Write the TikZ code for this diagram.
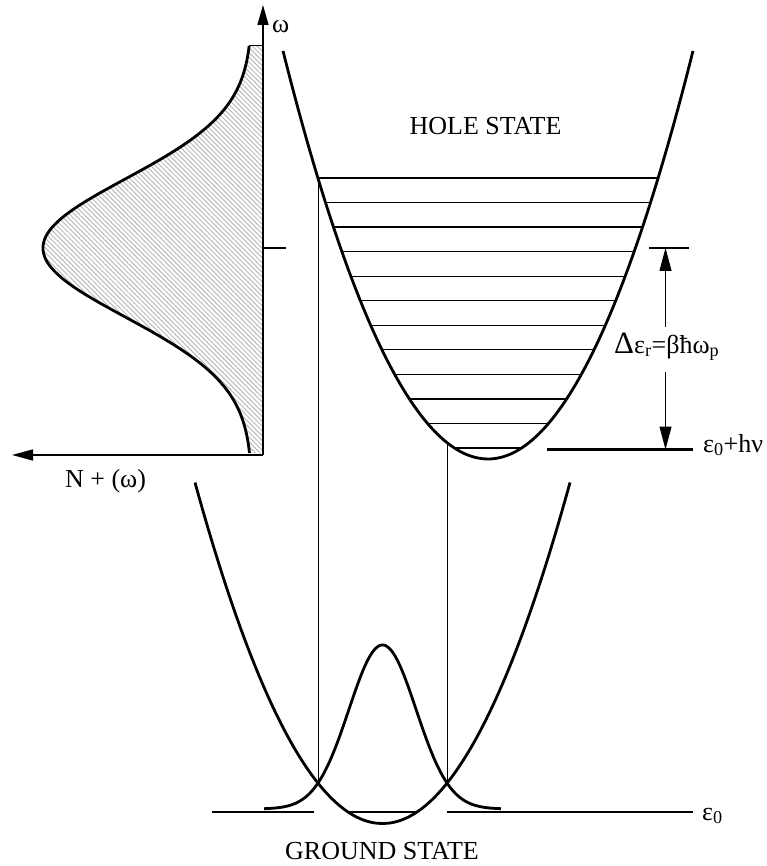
\documentclass[tikz,border=0pt]{standalone}
\usepackage{fontspec}
\setmainfont{Liberation Serif}
\usetikzlibrary{arrows.meta,patterns.meta}
\begin{document}
\begin{tikzpicture}[x=1pt,y=-1pt,
  curve/.style={line width=2.8pt, line join=round},
  levelline/.style={line width=1.3pt},
  thickline/.style={line width=2.5pt},
  guide/.style={line width=1pt},
  axisline/.style={line width=1.4pt},
  tipv/.style={-{Triangle[length=20pt,width=11pt]}},
  tipd/.style={-{Triangle[length=23pt,width=12pt]}},
  lbl/.style={font=\fontsize{26}{30}\selectfont, inner sep=0pt},
]
\useasboundingbox (0,0) rectangle (766,866);

% ---------- distribution N+(omega) ----------
\fill[pattern={Lines[angle=-45,distance=3.4pt,line width=1pt]}, pattern color=gray!55]
  plot[domain=46:453, samples=140] ({252-209*exp(-0.5*((\x-248)/69)^2)}, \x)
  -- (263,453) -- (263,46) -- cycle;
\draw[curve] plot[domain=46:453, samples=140] ({252-209*exp(-0.5*((\x-248)/69)^2)}, \x);
\draw[guide] (249,46) -- (263,46);

\coordinate (O) at (263,455);
\coordinate (wtop) at (263,5);
\coordinate (Nend) at (12,455);
\draw[axisline,tipv] (O) -- (wtop);
\draw[axisline,-{Triangle[length=21pt,width=11pt]}] (O) -- (Nend);
\draw[line width=2pt] (263,248) -- (286,248);
\node[lbl, anchor=base west] (omega) at (272,33) {ω};
\node[lbl, anchor=base] (Nlab) at (105.5,487) {N + (ω)};

% ---------- hole state ----------
\draw[curve] (283,50.9) .. controls (419.67,595) and (556.33,595) .. (693,50.9);
\foreach \k in {0,...,11} {
  \pgfmathsetmacro\yy{178+\k*270/11}
  \pgfmathsetmacro\hw{10.148*sqrt(459-\yy)}
  \draw[levelline] (488-\hw,\yy) -- (488+\hw,\yy);
}
\node[lbl, anchor=base] (hole) at (485.5,135) {HOLE STATE};

% ---------- ground state ----------
\draw[curve] (195,482.5) .. controls (320,937.2) and (445,937.2) .. (570,482.5);
\draw[curve] plot[domain=264:501, samples=140] (\x, {809-164*exp(-0.5*((\x-382.5)/33.6)^2)});
\draw[thickline] (212,812) -- (314,812);
\draw[line width=2pt] (349,812) -- (416,812);
\draw[thickline] (447,812) -- (693,812);
\node[lbl, anchor=base west] (e0) at (702,820) {ε\textsubscript{0}};
\node[lbl, anchor=base] (ground) at (382,859) {GROUND STATE};

% ---------- transitions ----------
\draw[guide] (318,178) -- (318,783);
\draw[guide] (447,443) -- (447,783);

% ---------- relaxation energy ----------
\draw[thickline] (649,248) -- (689,248);
\draw[thickline] (547,449.5) -- (693,449.5);
\coordinate (dtop) at (665.5,248);
\coordinate (dbot) at (665.5,449.5);
\coordinate (g1) at (665.5,327);
\coordinate (g2) at (665.5,372);
\draw[guide,tipd] (g1) -- (dtop);
\draw[guide,tipd] (g2) -- (dbot);
\node[lbl, anchor=base west] (dlab) at (614,353) {{\fontsize{31}{31}\selectfont Δ}ε\textsubscript{r}=βħω\textsubscript{p}};
\node[lbl, anchor=base west] (ehv) at (703,452) {ε\textsubscript{0}+hν};
\end{tikzpicture}
\end{document}
